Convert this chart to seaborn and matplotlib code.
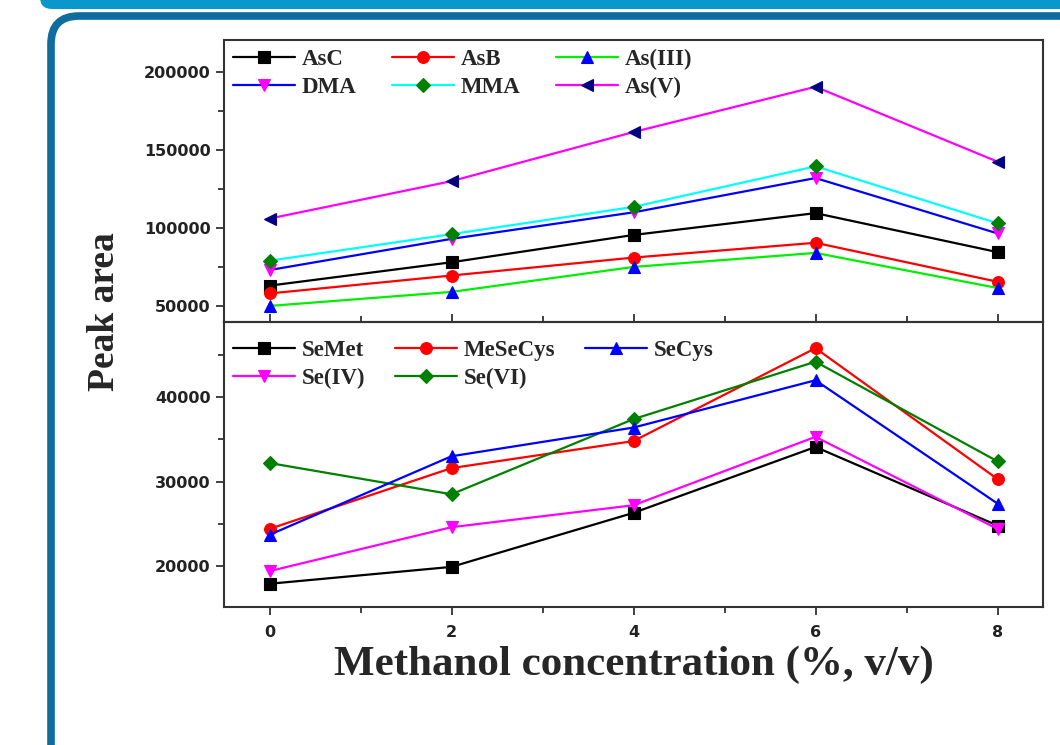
import numpy as np
import pandas as pd
import seaborn as sns
import matplotlib
matplotlib.use('Agg')
from matplotlib import pyplot as plt
from matplotlib.patches import FancyBboxPatch
from matplotlib.ticker import MultipleLocator

# methanol concentration (%, v/v)
methanol = [0, 2, 4, 6, 8]

# arsenic species, peak area
AsC = [63000, 78000, 95500, 109500, 84500]
AsB = [58000, 69500, 81000, 90500, 65500]
AsIII = [50000, 59000, 75000, 84000, 61500]
DMA = [73000, 93000, 110000, 132000, 96500]
MMA = [79000, 96000, 113500, 139500, 103000]
AsV = [106000, 130000, 161500, 190500, 142500]

# selenium species, peak area
SeMet = [17900, 19900, 26300, 34100, 24800]
MeSeCys = [24400, 31600, 34800, 45800, 30300]
SeCys = [23700, 33000, 36400, 42000, 27400]
SeIV = [19400, 24600, 27200, 35300, 24400]
SeVI = [32200, 28500, 37400, 44200, 32400]

sns.set_style('ticks')
plt.rcParams['font.family'] = ['DejaVu Sans']

# (label, values, line colour, marker, marker colour)
as_series = [
    ('AsC', AsC, 'black', 's', 'black'),
    ('DMA', DMA, 'blue', 'v', 'magenta'),
    ('AsB', AsB, 'red', 'o', 'red'),
    ('MMA', MMA, 'cyan', 'D', '#008000'),
    ('As(III)', AsIII, '#00ee00', '^', 'blue'),
    ('As(V)', AsV, 'magenta', '<', '#000080'),
]
se_series = [
    ('SeMet', SeMet, 'black', 's', 'black'),
    ('Se(IV)', SeIV, 'magenta', 'v', 'magenta'),
    ('MeSeCys', MeSeCys, 'red', 'o', 'red'),
    ('Se(VI)', SeVI, '#008000', 'D', '#008000'),
    ('SeCys', SeCys, 'blue', '^', 'blue'),
]

fig = plt.figure(figsize=(10.6, 7.45), dpi=100)

# frame decoration of the slide
band = FancyBboxPatch((0.40, 7.36), 12, 1.0, boxstyle='round,pad=0,rounding_size=0.12',
                      transform=fig.dpi_scale_trans, facecolor='#0a98cc', edgecolor='none',
                      zorder=-5)
frame = FancyBboxPatch((0.51, -1.0), 12, 8.29, boxstyle='round,pad=0,rounding_size=0.28',
                       transform=fig.dpi_scale_trans, facecolor='white', edgecolor='#0f6c9f',
                       linewidth=5.5, zorder=-4)
fig.patches.extend([band, frame])

ax1 = fig.add_axes([224 / 1060, (745 - 322) / 745, (1043 - 224) / 1060, 282 / 745])
ax2 = fig.add_axes([224 / 1060, (745 - 607) / 745, (1043 - 224) / 1060, 285 / 745])
for ax in (ax1, ax2):
    ax.patch.set_alpha(0)


def draw(ax, series):
    for name, vals, lc, mk, mc in series:
        sns.lineplot(x=methanol, y=vals, ax=ax, color=lc, linewidth=1.6, marker=mk,
                     markersize=8.5 if mk != 'D' else 7.5, markerfacecolor=mc,
                     markeredgecolor=mc, markeredgewidth=0.8, label=name)


draw(ax1, as_series)
draw(ax2, se_series)

legfont = {'family': 'Liberation Serif', 'weight': 'bold', 'size': 16.5}
for ax, cs, anchor in ((ax1, 1.55, (0.0, 1.0)), (ax2, 1.3, (0.0, 0.97))):
    ax.set_xlim(-0.5, 8.5)
    ax.legend(loc='upper left', bbox_to_anchor=anchor, ncol=3, frameon=False, prop=legfont,
              handlelength=2.7, handletextpad=0.3, columnspacing=cs, labelspacing=0.3,
              borderpad=0.2, borderaxespad=0.2)
    for s in ax.spines.values():
        s.set_color('#333333')
        s.set_linewidth(1.5)
    ax.tick_params(which='both', direction='out', width=1.3, color='#333333',
                   labelsize=11.5, labelcolor='#222222')
    ax.tick_params(which='major', length=6)
    ax.tick_params(which='minor', length=4)
    ax.xaxis.set_major_locator(MultipleLocator(2))
    ax.xaxis.set_minor_locator(MultipleLocator(1))

ax1.set_ylim(39700, 220500)
ax1.yaxis.set_major_locator(MultipleLocator(50000))
ax1.yaxis.set_minor_locator(MultipleLocator(25000))
ax1.tick_params(axis='x', which='both', direction='in', labelbottom=False)

ax2.set_ylim(15150, 48900)
ax2.yaxis.set_major_locator(MultipleLocator(10000))
ax2.yaxis.set_minor_locator(MultipleLocator(5000))
ax2.tick_params(axis='x', pad=7)

for ax in (ax1, ax2):
    for lab in ax.get_yticklabels() + ax.get_xticklabels():
        lab.set_fontweight('bold')

ax2.set_xlabel('Methanol concentration (%, v/v)', fontfamily='Liberation Serif',
               fontweight='bold', fontsize=31, labelpad=4)
ax1.set_ylabel('')
ax2.set_ylabel('')
fig.text(105 / 1060, (745 - 312) / 745, 'Peak area', rotation=90, ha='center', va='center',
         fontfamily='Liberation Serif', fontweight='bold', fontsize=27)

fig.savefig('out.png', dpi=100)
